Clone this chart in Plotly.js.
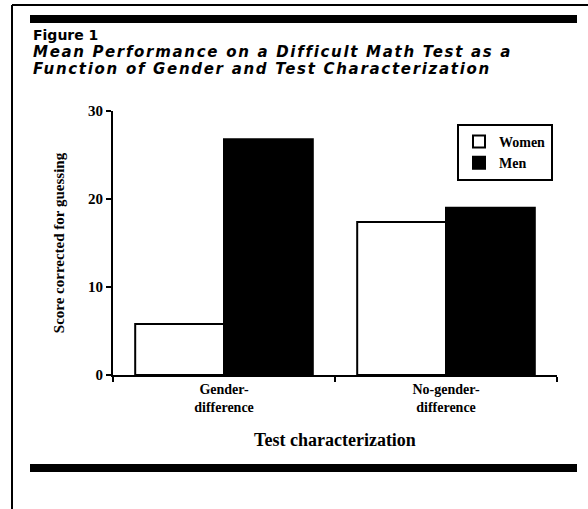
<!DOCTYPE html>
<html>
<head>
<meta charset="utf-8">
<script src="https://cdn.plot.ly/plotly-3.0.1.min.js"></script>
<style>
  html, body { margin: 0; padding: 0; background: #fff; }
  #chart { width: 588px; height: 509px; }
</style>
</head>
<body>
<div id="chart"></div>
<script>
// ---- data ----
const categories = ["Gender-<br>difference", "No-gender-<br>difference"];
const seriesNames = ["Women", "Men"];
const womenScores = [5.8, 17.4];
const menScores = [26.8, 19.0];
const yTickValues = [0, 10, 20, 30];
const yTickLabels = ["0", "10", "20", "30"];

const serif = "Liberation Serif, Times New Roman, serif";
const sans = "DejaVu Sans, Verdana, sans-serif";

// plot area pixels: x 113..557, y 111..375
const L = 113, R = 557, T = 111, B = 375;
const W = R - L, H = B - T;
const px = v => (v - L) / W;
const py = v => (B - v) / H;

const traces = [
  {
    type: "bar", name: "<b>" + seriesNames[0] + "</b>", x: categories, y: womenScores,
    marker: { color: "#ffffff", line: { color: "#000000", width: 2 } },
    hoverinfo: "skip"
  },
  {
    type: "bar", name: "<b>" + seriesNames[1] + "</b>", x: categories, y: menScores,
    marker: { color: "#000000", line: { color: "#000000", width: 2 } },
    hoverinfo: "skip"
  }
];

const spaced = t => '<span style="letter-spacing:1.7px">' + t + '</span>';

const layout = {
  width: 588, height: 509,
  paper_bgcolor: "#ffffff", plot_bgcolor: "#ffffff",
  margin: { l: L, r: 588 - R, t: T, b: 509 - B, pad: 0 },
  barmode: "group", bargap: 0.2, bargroupgap: 0,
  showlegend: true,
  legend: {
    x: px(553), xanchor: "right", y: py(124), yanchor: "top",
    bgcolor: "#ffffff", bordercolor: "#000000", borderwidth: 2,
    font: { family: serif, size: 14, color: "#000" },
    itemwidth: 30, tracegroupgap: 0
  },
  xaxis: {
    type: "category",
    range: [-0.5, 1.5],
    showline: true, linecolor: "#000", linewidth: 2,
    showgrid: false, zeroline: false,
    ticks: "outside", tickson: "boundaries", ticklen: 5, tickwidth: 2, tickcolor: "#000",
    tickfont: { family: serif, size: 14, color: "#000", weight: "bold" },
    title: { text: "<b>Test characterization</b>", font: { family: serif, size: 18, color: "#000" }, standoff: 19 },
    automargin: false, fixedrange: true
  },
  yaxis: {
    range: [0, 30],
    tickvals: yTickValues, ticktext: yTickLabels.map(t => "<b>" + t + "</b>"),
    showline: true, linecolor: "#000", linewidth: 2,
    showgrid: false, zeroline: false,
    ticks: "outside", ticklen: 5, tickwidth: 2, tickcolor: "#000",
    tickfont: { family: serif, size: 15, color: "#000" },
    title: { text: "<b>Score corrected for guessing</b>", font: { family: serif, size: 15, color: "#000" }, standoff: 20 },
    automargin: false, fixedrange: true
  },
  yaxis2: {
    overlaying: "y", range: [0, 30], tickvals: yTickValues,
    showticklabels: false, showline: false, showgrid: false, zeroline: false,
    ticks: "inside", ticklen: 4, tickwidth: 2, tickcolor: "#000", fixedrange: true
  },
  annotations: [
    { xref: "paper", yref: "paper", x: px(31), y: py(35), xanchor: "left", yanchor: "middle",
      text: "<b>Figure 1</b>", showarrow: false,
      font: { family: sans, size: 14, color: "#000" } },
    { xref: "paper", yref: "paper", x: px(31), y: py(52), xanchor: "left", yanchor: "middle",
      text: "<b><i>" + spaced("Mean Performance on a Difficult Math Test as a") + "</i></b>", showarrow: false,
      font: { family: sans, size: 15, color: "#000" } },
    { xref: "paper", yref: "paper", x: px(31), y: py(69), xanchor: "left", yanchor: "middle",
      text: "<b><i>" + spaced("Function of Gender and Test Characterization") + "</i></b>", showarrow: false,
      font: { family: sans, size: 15, color: "#000" } }
  ],
  shapes: [
    // outer frame (left + top)
    { type: "line", xref: "paper", yref: "paper", x0: px(12), x1: px(12), y0: py(5), y1: py(509), line: { color: "#000", width: 2 } },
    { type: "line", xref: "paper", yref: "paper", x0: px(12), x1: px(588), y0: py(5), y1: py(5), line: { color: "#000", width: 2 } },
    // thick rules
    { type: "rect", xref: "paper", yref: "paper", x0: px(30), x1: px(577), y0: py(23), y1: py(15), fillcolor: "#000", line: { width: 0 } },
    { type: "rect", xref: "paper", yref: "paper", x0: px(30), x1: px(577), y0: py(472), y1: py(464), fillcolor: "#000", line: { width: 0 } }
  ]
};

Plotly.newPlot("chart", traces, layout, { displayModeBar: false, staticPlot: true });
</script>
</body>
</html>
